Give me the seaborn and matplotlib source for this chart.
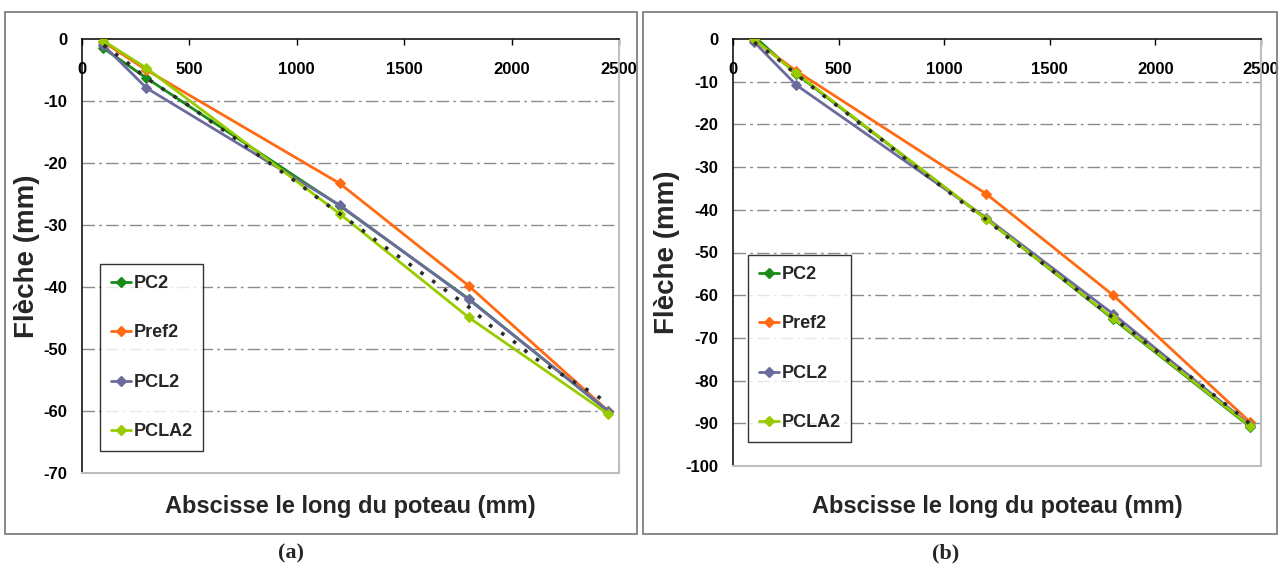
import matplotlib
matplotlib.use("Agg")
import matplotlib.pyplot as plt
import seaborn as sns
import numpy as np
import pandas as pd
from matplotlib.patches import Rectangle
from matplotlib.lines import Line2D

# ---------------- data ----------------
x_pts = [100, 300, 1200, 1800, 2450]
series_names = ["PC2", "Pref2", "PCL2", "PCLA2"]
series_colors = ["#1a8a1a", "#ff6a13", "#6b6b9e", "#99cc00"]

# panel (a)
a_PC2 = [-1.5, -6.3, -26.9, -41.9, -60.1]
a_Pref2 = [-0.5, -5.0, -23.3, -39.8, -60.0]
a_PCL2 = [-1.0, -7.9, -26.8, -42.0, -60.0]
a_PCLA2 = [-0.3, -4.7, -28.2, -44.9, -60.5]

# panel (b)
b_PC2 = [0.6, -8.2, -42.2, -65.6, -90.9]
b_Pref2 = [-0.3, -7.5, -36.3, -60.0, -89.8]
b_PCL2 = [-0.7, -10.8, -41.9, -64.4, -90.5]
b_PCLA2 = [-0.1, -8.0, -42.2, -65.4, -90.7]

# reference dotted curves
ref_x = [100, 200, 300, 400, 500, 600, 700, 800, 900, 1000, 1100, 1200, 1300,
         1400, 1500, 1600, 1700, 1800, 1900, 2000, 2100, 2200, 2300, 2400, 2450]
a_ref = [-1.0, -3.5, -6.3, -8.6, -10.8, -13.3, -15.7, -18.2, -20.7, -23.1, -25.7,
         -28.2, -30.7, -33.3, -35.7, -38.2, -40.7, -43.2, -46.2, -48.5, -51.3,
         -53.4, -55.5, -57.6, -59.0]
b_ref = [-0.8, -4.2, -8.3, -12.2, -15.9, -19.7, -23.4, -27.4, -31.3, -35.0, -38.8,
         -42.3, -46.4, -50.1, -53.8, -57.6, -61.5, -65.3, -69.0, -72.9, -76.7,
         -80.3, -84.3, -88.1, -90.3]

a_yticks = [0, -10, -20, -30, -40, -50, -60, -70]
b_yticks = [0, -10, -20, -30, -40, -50, -60, -70, -80, -90, -100]
x_ticks = [0, 500, 1000, 1500, 2000, 2500]

xlabel = "Abscisse le long du poteau (mm)"
ylabel = "Flèche (mm)"
panel_labels = ["(a)", "(b)"]

# ---------------- style ----------------
sns.set_style("white")
plt.rcParams["font.family"] = ["Liberation Sans", "DejaVu Sans"]
plt.rcParams["axes.unicode_minus"] = False

W, H = 1281, 567
fig = plt.figure(figsize=(W / 100, H / 100), dpi=100)

def fx(px):
    return px / W

def fy(py):
    return 1 - py / H

sans = ["Liberation Sans", "DejaVu Sans"]
serif = ["Liberation Serif", "DejaVu Serif"]

# outer panel boxes
for (x0, x1) in [(5, 637), (643, 1277)]:
    fig.patches.append(Rectangle((fx(x0), fy(534)), fx(x1) - fx(x0), fy(12) - fy(534),
                                 transform=fig.transFigure, fill=False,
                                 edgecolor="#808080", linewidth=1.3, zorder=0))

panels = [
    dict(box=(82, 619, 39, 473), ylim=-70, yticks=a_yticks,
         vals=[a_PC2, a_Pref2, a_PCL2, a_PCLA2], ref=a_ref,
         leg=(100, 194, 264, 461), ylab_dx=42, lab_x=291),
    dict(box=(733, 1261, 39, 466), ylim=-100, yticks=b_yticks,
         vals=[b_PC2, b_Pref2, b_PCL2, b_PCLA2], ref=b_ref,
         leg=(748, 850, 255, 450), ylab_dx=53, lab_x=946),
]

for i, p in enumerate(panels):
    l, r, t, b = p["box"]
    ax = fig.add_axes([fx(l), fy(b), fx(r) - fx(l), fy(t) - fy(b)])
    ax.set_xlim(0, 2500)
    ax.set_ylim(p["ylim"], 0)

    # grid
    for yv in p["yticks"][1:-1]:
        ax.axhline(yv, color="#8c8c8c", lw=1.0, ls=(0, (9, 3, 2, 3)), zorder=1)

    handles = []
    for name, col, vals in zip(series_names, series_colors, p["vals"]):
        sns.lineplot(x=x_pts, y=vals, ax=ax, color=col, lw=2.0, marker="D",
                     markersize=5.5, markeredgecolor=col, legend=False, zorder=3)
        handles.append(Line2D([], [], color=col, lw=2.0, marker="D", markersize=5.5,
                              markeredgecolor=col, label=name))
    sns.lineplot(x=ref_x, y=p["ref"], ax=ax, color="#2b2b2b", lw=2.6,
                 ls=(0, (1, 3)), legend=False, zorder=4)

    # spines
    for s in ["top", "left"]:
        ax.spines[s].set_color("#000000")
        ax.spines[s].set_linewidth(1.1)
    for s in ["bottom", "right"]:
        ax.spines[s].set_color("#bdbdbd")
        ax.spines[s].set_linewidth(1.5)

    ax.xaxis.tick_top()
    ax.set_xticks(x_ticks)
    ax.set_xticklabels([str(v) for v in x_ticks])
    ax.tick_params(axis="x", direction="in", length=4.5, width=1, pad=-27,
                   labelsize=12, colors="#000000")
    ax.set_yticks(p["yticks"])
    ax.set_yticklabels([str(v) for v in p["yticks"]])
    ax.tick_params(axis="y", direction="out", length=3.5, width=1, pad=7,
                   labelsize=12, colors="#000000")
    for lab in ax.get_xticklabels() + ax.get_yticklabels():
        lab.set_fontweight("bold")
        lab.set_family(sans)

    ax.set_xlabel("")
    ax.set_ylabel(ylabel, fontsize=20, fontweight="bold", family=sans)
    ax.yaxis.set_label_coords(-p["ylab_dx"] / (r - l), 0.5)

    fig.text(fx((l + r) / 2), fy(506), xlabel, ha="center", va="center",
             fontsize=17, fontweight="bold", family=sans)
    fig.text(fx(p["lab_x"]), fy(553), panel_labels[i], ha="center", va="center",
             fontsize=16, fontweight="bold", family=serif)

    # legend
    gl, gr, gt, gb = p["leg"]
    leg = ax.legend(handles=handles, loc="upper left",
                    bbox_to_anchor=((gl - l) / (r - l), (b - gt) / (b - t)),
                    borderaxespad=0, frameon=True, fancybox=False, shadow=False,
                    prop={"family": sans, "weight": "bold", "size": 13},
                    handlelength=1.1, handletextpad=0.15, labelspacing=1.8,
                    borderpad=0.6)
    leg.get_frame().set_edgecolor("#000000")
    leg.get_frame().set_linewidth(1.0)

fig.savefig("out.png", dpi=100)
